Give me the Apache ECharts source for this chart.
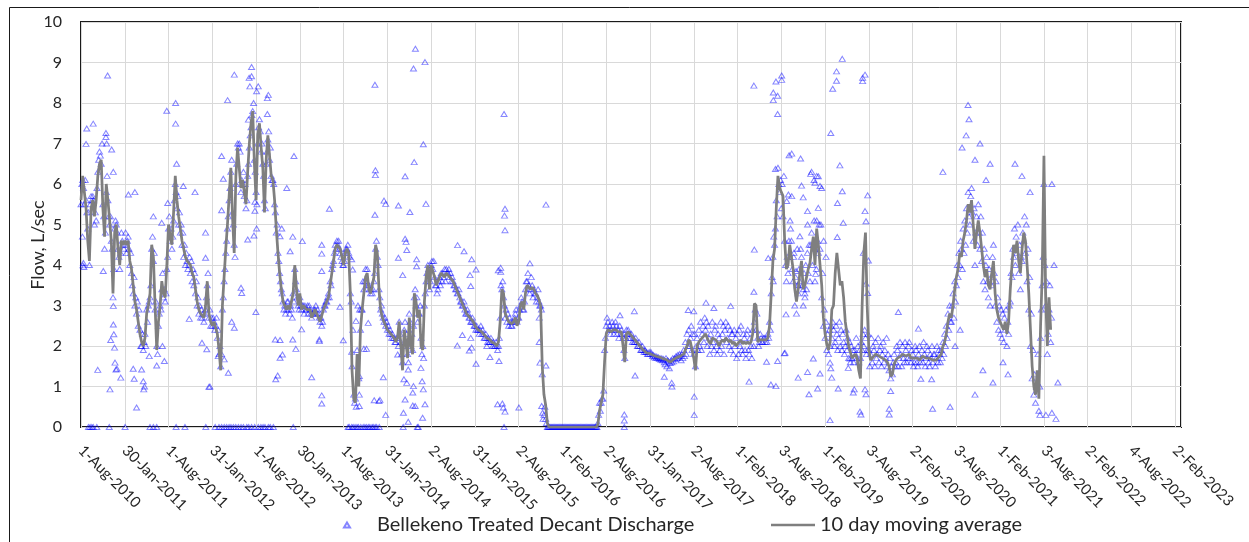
<!DOCTYPE html>
<html>
<head>
<meta charset="utf-8">
<script src="https://cdn.jsdelivr.net/npm/echarts@6/dist/echarts.min.js"></script>
<style>
  html, body { margin: 0; padding: 0; background: #fff; }
  #chart { width: 1249px; height: 542px; }
</style>
</head>
<body>
<div id="chart"></div>
<script>
// Half-year tick labels along the date axis (days counted from 1-Aug-2010)
const tickLabels = ['1-Aug-2010','30-Jan-2011','1-Aug-2011','31-Jan-2012','1-Aug-2012','30-Jan-2013',
  '1-Aug-2013','31-Jan-2014','2-Aug-2014','31-Jan-2015','2-Aug-2015','1-Feb-2016','2-Aug-2016',
  '31-Jan-2017','2-Aug-2017','1-Feb-2018','3-Aug-2018','1-Feb-2019','3-Aug-2019','2-Feb-2020',
  '3-Aug-2020','1-Feb-2021','3-Aug-2021','2-Feb-2022','4-Aug-2022','2-Feb-2023'];
const TICK_DAYS = 182.72;
const AXIS_END_DAY = 4592;

// 10 day moving average, L/sec, 26 samples per half-year
const AVG_STEP = TICK_DAYS / 26;
const avgFlow = [
  5.6,6.2,5.8,5.4,4.6,4.1,5.4,5.6,5.2,5.6,6.2,6.5,6.6,5.4,4.7,6.0,5.6,5.1,4.6,3.3,4.8,5.0,4.4,4.0,4.6,4.5,
  4.6,4.5,4.6,4.1,3.9,3.5,3.1,2.9,2.6,2.3,2.1,2.0,2.2,2.8,3.0,3.3,4.5,4.2,3.0,1.9,2.6,3.0,3.6,3.3,3.2,4.0,
  5.0,4.7,4.5,5.3,6.2,5.6,5.2,4.9,4.6,4.4,4.2,4.1,4.1,4.0,3.8,3.7,3.4,3.1,2.9,2.8,2.8,2.7,3.0,3.6,2.8,2.6,
  2.5,2.6,2.6,2.3,1.9,1.4,3.0,3.7,4.4,5.0,5.7,6.4,5.2,4.3,6.2,6.9,6.9,5.9,6.1,5.8,5.5,6.3,7.0,7.5,7.8,6.5,
  5.6,7.2,7.5,6.9,6.4,5.3,6.6,7.2,6.7,6.2,6.1,5.6,4.9,4.3,3.8,3.4,3.1,3.0,2.9,3.0,2.9,2.9,3.3,4.0,3.4,3.0,
  3.3,2.9,3.0,3.0,2.9,2.9,2.9,2.7,2.8,2.9,2.8,2.8,2.6,2.6,2.9,3.0,3.1,3.2,3.5,3.8,4.1,4.4,4.5,4.5,4.4,4.2,
  4.0,4.3,4.4,4.3,3.3,1.4,0.7,0.6,1.8,1.0,2.4,2.9,3.3,3.7,3.8,3.4,3.3,3.3,3.7,4.5,4.3,3.4,2.9,2.7,2.6,2.5,
  2.4,2.35,2.3,2.25,2.2,2.1,2.2,2.6,2.0,1.4,2.4,2.1,1.7,2.7,2.0,1.8,3.3,3.1,2.7,2.9,2.0,1.9,3.1,3.7,4.0,3.4,
  4.0,4.0,3.7,3.5,3.5,3.7,3.8,3.75,3.7,3.8,3.8,3.7,3.65,3.6,3.5,3.4,3.3,3.2,3.1,3.0,2.9,2.8,2.75,2.7,2.65,2.6,
  2.5,2.45,2.4,2.4,2.35,2.3,2.25,2.2,2.2,2.15,2.1,2.1,2.05,2.0,2.1,2.6,3.4,3.3,2.8,2.7,2.6,2.6,2.55,2.6,2.7,2.5,
  2.6,3.0,3.1,2.9,3.3,3.5,3.45,3.4,3.45,3.4,3.3,3.25,3.15,3.0,1.5,0.8,0.55,0.1,0,0,0,0,0,0,0,0,
  0,0,0,0,0,0,0,0,0,0,0,0,0,0,0,0,0,0,0,0,0,0.05,0.4,0.6,0.8,1.6,
  2.3,2.4,2.4,2.35,2.4,2.4,2.4,2.35,2.35,2.35,2.0,1.6,2.3,2.35,2.3,2.25,2.2,2.15,2.1,2.05,2.0,1.95,1.9,1.9,1.83,1.82,
  1.81,1.8,1.77,1.76,1.74,1.73,1.72,1.7,1.68,1.67,1.66,1.64,1.6,1.63,1.67,1.7,1.72,1.74,1.75,1.78,1.8,1.9,2.0,2.15,2.1,1.9,
  1.7,1.4,2.0,2.1,2.15,2.2,2.25,2.3,2.3,2.1,2.05,2.2,2.2,2.15,2.1,2.0,2.1,2.15,2.1,2.2,2.2,2.1,2.15,2.05,2.1,2.0,
  2.0,2.1,2.15,2.05,2.1,2.05,2.1,2.05,2.1,2.3,3.05,3.0,2.1,2.15,2.15,2.15,2.15,2.15,2.2,2.5,3.3,4.1,4.4,5.4,6.2,5.9,
  5.8,5.7,4.6,3.9,4.0,4.5,4.5,3.9,3.4,3.1,3.4,3.8,4.1,3.4,3.5,3.7,3.9,4.05,4.4,4.7,4.0,4.9,4.5,4.5,3.5,2.7,
  2.3,2.05,1.9,2.1,2.9,3.0,3.8,4.3,3.9,3.5,3.6,3.2,2.6,2.3,2.0,1.85,1.7,1.75,1.8,1.7,1.4,1.2,3.0,4.3,4.8,3.0,
  1.9,1.65,1.7,1.75,1.8,1.78,1.75,1.73,1.7,1.68,1.65,1.6,1.5,1.25,1.3,1.55,1.65,1.7,1.72,1.75,1.8,1.78,1.75,1.78,1.8,1.7,
  1.68,1.7,1.72,1.7,1.65,1.7,1.75,1.72,1.7,1.72,1.7,1.68,1.65,1.65,1.65,1.7,1.7,1.8,2.0,2.1,2.3,2.6,2.8,2.7,3.0,3.4,
  3.7,3.9,4.3,4.2,4.6,4.8,5.1,5.5,5.3,5.6,5.0,4.4,4.8,5.1,4.8,4.4,4.0,3.7,3.9,3.5,3.4,3.8,4.1,3.3,2.9,2.7,
  2.6,2.5,2.4,2.6,2.3,2.6,3.4,4.0,4.5,4.3,4.6,4.1,3.8,4.4,4.8,4.6,4.0,3.3,2.4,1.5,1.0,0.8,1.4,0.7,2.5,3.8,
  6.7,3.3,2.0,3.2,2.4
];

// Treated decant discharge readings, L/sec, 52 per half-year
const DAILY_STEP = TICK_DAYS / 52;
const dailyFlow = [
  5.5,6.0,6.1,5.9,5.5,6.1,5.6,5.3,4.9,5.3,4.0,5.5,5.7,5.6,5.7,5.6,5.0,5.3,5.1,5.9,6.3,6.6,6.8,6.7,6.5,7.0,5.5,5.2,4.4,4.8,5.8,6.2,5.6,5.2,5.0,5.2,4.6,4.4,3.2,3.9,4.9,5.1,5.0,4.8,4.4,4.2,3.9,4.3,4.8,4.6,4.5,4.4,
  4.5,4.8,4.3,4.6,4.7,4.4,4.0,4.3,3.8,3.5,3.3,3.7,3.0,3.2,2.8,3.1,2.5,2.9,2.4,2.0,2.0,2.3,1.9,2.1,2.3,2.0,2.9,2.6,3.0,3.1,3.2,3.5,4.4,4.7,4.1,4.3,2.9,3.1,2.0,1.8,2.5,2.8,3.0,2.9,3.4,3.8,3.2,3.4,3.1,3.3,3.9,4.2,
  4.9,5.2,4.6,4.9,4.4,4.7,5.1,5.6,6.0,5.8,5.4,5.7,5.0,5.3,4.8,5.0,4.5,4.8,4.2,4.5,4.0,4.3,4.1,3.9,4.0,4.2,3.8,4.1,3.6,3.9,3.5,3.8,3.3,3.6,3.0,3.2,2.8,3.0,2.7,2.9,2.7,2.8,2.6,2.8,2.9,3.2,3.5,3.8,2.7,2.9,2.5,2.7,
  2.5,2.7,2.6,2.4,2.5,2.7,2.2,2.4,1.8,2.0,1.5,1.8,2.9,3.2,3.6,3.9,4.3,4.6,4.9,5.2,5.6,5.9,6.3,6.6,5.3,5.0,4.5,4.2,6.0,6.5,7.0,6.9,7.0,6.8,5.8,6.1,6.0,6.3,5.7,6.0,5.4,5.6,6.2,6.5,6.9,7.2,7.4,7.7,7.8,8.0,6.6,6.3,
  5.8,5.5,7.0,7.4,7.6,7.3,6.8,7.0,6.5,6.2,5.6,5.4,6.5,6.8,7.1,7.3,6.6,6.9,6.2,6.1,6.1,6.0,5.5,5.3,4.8,5.0,4.3,4.1,3.8,3.6,3.4,3.3,3.1,2.9,3.0,2.8,2.9,3.1,3.1,2.9,2.8,3.0,2.9,2.7,3.3,3.1,3.9,3.6,3.4,3.2,3.0,2.9,
  3.2,3.0,2.9,3.0,3.0,2.8,3.0,2.9,2.9,3.0,2.8,3.0,2.9,2.8,2.7,2.8,2.8,2.9,2.9,3.0,2.8,2.9,2.8,2.7,2.6,2.7,2.5,2.6,2.9,3.0,3.0,3.1,3.1,3.2,3.3,3.2,3.6,3.5,3.9,4.0,4.1,4.3,4.5,4.4,4.6,4.5,4.6,4.4,4.3,4.2,4.1,4.0,
  4.0,4.1,4.3,4.4,4.4,4.5,4.3,4.2,3.3,3.1,1.5,2.4,0.8,0.6,0.7,0.5,1.9,3.0,1.2,2.9,2.4,2.9,2.9,3.6,3.4,3.6,3.9,3.6,3.9,3.5,3.5,3.4,3.3,3.4,3.3,3.4,3.6,3.8,4.4,4.6,4.2,4.0,3.4,3.2,2.9,3.0,2.8,2.7,2.6,2.7,2.5,2.6,
  2.4,2.5,2.3,2.4,2.3,2.2,2.3,2.2,2.2,2.1,2.1,2.2,2.2,2.0,2.6,2.3,2.1,1.8,1.6,2.0,2.4,2.6,2.1,2.3,1.8,1.6,2.8,2.6,2.0,2.3,1.9,2.5,3.2,3.4,3.0,3.2,2.6,2.8,2.8,3.0,2.2,1.8,2.0,1.7,3.0,3.3,3.6,3.8,4.0,3.9,3.4,3.6,
  4.0,4.1,3.9,4.1,3.7,3.5,3.5,3.3,3.4,3.6,3.7,3.5,3.8,3.6,3.8,3.7,3.9,3.6,3.9,3.8,3.8,3.9,3.7,3.8,3.6,3.7,3.6,3.5,3.5,3.4,3.4,3.3,3.3,3.4,3.2,3.1,3.1,3.0,3.0,3.1,2.9,2.8,2.8,2.9,2.8,2.7,2.7,2.6,2.6,2.7,2.6,2.5,
  2.5,2.4,2.5,2.4,2.4,2.3,2.4,2.5,2.3,2.4,2.3,2.2,2.2,2.3,2.2,2.1,2.2,2.1,2.1,2.2,2.1,2.0,2.1,2.0,2.0,2.1,2.0,1.9,2.0,2.2,2.7,3.5,3.4,3.6,3.2,3.0,2.7,2.9,2.6,2.8,2.5,2.7,2.6,2.5,2.5,2.6,2.6,2.7,2.8,2.9,2.6,2.7,
  2.7,2.9,3.0,3.2,3.1,2.9,2.9,3.1,3.4,3.6,3.6,3.8,3.5,3.3,3.4,3.7,3.5,3.2,3.4,3.3,3.3,3.1,3.2,3.4,3.1,3.0,3.0,2.9,1.3,0.2,0.3,0.5,0.2,0.1,0,0,0,0,0,0,0,0,0,0,0,0,0,0,0,0,0,0,
  0,0,0,0,0,0,0,0,0,0,0,0,0,0,0,0,0,0,0,0,0,0,0,0,0,0,0,0,0,0,0,0,0,0,0,0,0,0,0,0,0,0,0.1,0.3,0.6,0.4,0.6,0.7,0.7,0.9,1.9,2.2,
  2.5,2.7,2.6,2.4,2.5,2.3,2.4,2.6,2.5,2.3,2.4,2.6,2.5,2.3,2.4,2.2,2.5,2.3,2.4,2.3,2.2,1.9,1.7,2.2,2.4,2.3,2.4,2.2,2.3,2.2,2.3,2.1,2.2,2.1,2.1,2.2,2.1,2.0,2.0,2.1,2.0,1.9,1.9,2.0,1.9,1.85,1.9,1.85,1.85,1.8,1.8,1.85,
  1.8,1.85,1.8,1.75,1.78,1.72,1.75,1.7,1.74,1.7,1.72,1.68,1.7,1.66,1.7,1.65,1.68,1.6,1.55,1.7,1.5,1.65,1.62,1.45,1.58,1.65,1.6,1.7,1.62,1.7,1.68,1.75,1.7,1.78,1.72,1.8,1.75,1.65,1.8,1.7,1.9,1.75,2.1,1.8,2.3,2.0,2.4,2.0,2.2,2.5,1.9,2.3,
  1.8,2.3,1.5,2.0,2.2,1.9,2.4,2.0,2.6,1.9,2.3,2.5,2.1,2.7,2.4,2.6,2.0,2.5,2.2,1.8,2.3,2.0,2.6,2.1,1.9,2.4,2.5,2.0,1.8,2.3,2.2,1.9,2.6,2.0,2.3,2.5,1.8,2.4,2.6,2.1,2.2,2.5,2.0,2.4,1.9,2.3,2.3,1.8,2.4,2.0,2.2,1.7,
  2.3,1.8,2.4,2.0,2.5,1.9,1.8,2.3,2.2,1.9,1.7,2.3,2.4,1.9,1.8,2.2,2.0,1.7,2.4,2.0,2.6,2.9,2.4,2.8,2.2,2.0,2.1,2.3,2.2,2.1,2.1,2.2,2.2,2.1,2.2,2.1,2.3,2.2,2.6,2.4,3.3,3.7,4.2,4.7,4.5,4.9,5.6,5.2,6.4,6.0,5.8,6.1,
  5.4,6.0,5.2,6.2,4.6,4.0,3.6,4.2,3.8,4.6,4.2,4.9,4.6,3.9,3.6,4.3,3.0,3.7,2.8,3.5,3.3,3.9,3.6,4.4,4.2,3.5,3.0,3.8,3.3,4.0,3.4,4.3,3.8,4.5,3.6,4.5,4.8,4.0,4.5,5.1,3.6,4.4,5.1,4.6,4.3,5.0,4.4,5.0,3.2,3.8,2.5,2.9,
  2.2,2.6,1.9,2.3,1.8,2.4,2.0,2.5,2.2,2.6,2.4,2.0,2.1,2.5,2.3,1.9,2.2,2.6,2.0,2.4,1.9,2.3,2.1,1.8,2.0,2.4,1.9,2.2,1.7,2.1,1.6,2.0,1.7,1.9,1.6,1.9,1.8,2.2,1.7,2.0,1.6,1.9,1.7,2.1,1.9,2.3,2.0,2.4,2.2,1.8,1.9,2.3,
  1.9,1.5,1.8,2.2,1.6,2.0,1.9,1.5,2.1,1.7,1.8,2.2,1.6,1.9,2.0,1.5,1.8,2.1,1.6,1.9,1.7,2.2,1.5,1.8,1.4,1.7,1.2,1.5,1.3,1.6,1.8,1.5,1.6,2.0,1.9,1.5,1.7,2.1,1.8,1.5,2.0,1.7,1.6,2.1,1.9,1.6,1.7,2.0,2.1,1.7,1.6,1.9,
  1.8,1.5,1.6,2.0,1.9,1.6,1.5,1.8,2.0,1.6,1.7,1.9,1.6,2.1,1.8,1.5,1.7,2.0,1.9,1.6,1.5,1.8,1.7,2.0,1.6,1.8,1.8,1.5,1.7,2.0,1.6,1.9,1.8,1.6,1.9,1.7,2.1,1.8,2.3,2.0,2.5,2.2,2.8,2.4,3.0,2.6,2.6,3.0,3.3,2.7,3.6,3.1,
  3.5,4.0,3.7,4.3,4.0,4.6,4.4,3.9,4.9,4.3,5.1,4.5,5.4,4.8,5.8,5.2,5.0,5.7,5.9,5.3,4.6,5.4,4.0,4.8,5.2,4.5,5.5,4.8,4.4,5.2,4.1,4.8,3.6,4.4,3.4,4.0,4.2,3.6,3.2,3.9,3.0,3.7,3.5,4.2,4.5,3.8,3.0,3.6,2.6,3.2,2.4,3.0,
  2.3,2.9,2.2,2.8,2.1,2.7,2.4,2.9,2.0,2.6,2.3,3.0,3.1,3.8,3.7,4.4,4.2,4.9,4.0,4.7,4.3,5.0,3.8,4.5,3.4,4.2,4.1,4.8,4.6,5.2,4.3,5.0,3.6,4.4,2.9,3.7,2.0,2.8,1.2,1.9,0.8,1.3,0.6,1.0,1.1,1.8,0.4,1.0,2.2,2.9,3.5,4.2,
  6.0,4.0,3.0,3.6,1.8,2.3,2.9,3.5,2.1,2.7
];

// Readings well away from the main band: [day, L/sec]
const spotReadings = [
  [111,8.68],[51,7.49],[24,7.37],[21,6.99],[104,7.26],[104,7.16],[107,7.0],[128,6.85],[135,6.3],[358,7.81],
  [395,8.0],[395,7.49],[399,6.5],[427,5.95],[476,5.8],[225,5.8],[198,5.74],[302,5.2],[337,5.04],[362,5.53],
  [520,4.8],[520,4.18],[6,4.7],[8,3.99],[10,4.05],[12,3.95],[93,3.85],[135,2.99],[135,2.53],[137,2.29],[124,2.15],
  [140,1.96],[142,1.59],[146,1.42],[70,1.41],[150,1.44],[166,1.22],[121,0.93],[218,1.44],[222,1.19],[253,1.42],
  [260,1.13],[265,1.0],[262,0.93],[232,0.48],[285,1.75],[316,1.52],[348,1.63],[340,2.0],[534,0.99],[452,2.67],
  [525,1.92],[505,2.08],
  [640,8.7],[712,8.89],[702,8.62],[705,8.41],[712,8.66],[612,8.07],[733,8.29],[740,8.41],[782,8.2],[778,8.12],
  [778,7.73],[699,7.59],[889,6.69],[587,6.69],[594,6.13],[859,5.9],[1037,5.39],[726,5.56],[726,5.34],[587,5.35],
  [733,4.9],[722,4.73],[696,4.63],[884,4.7],[924,4.59],[838,4.9],[831,4.71],[873,4.34],[1005,4.5],[1005,4.28],
  [1005,3.85],[1130,4.14],[1134,3.89],[1081,2.97],[1095,2.14],[668,3.44],[671,3.31],[730,2.84],[629,2.6],[640,2.45],
  [921,2.41],[811,2.16],[831,2.15],[884,2.16],[897,1.93],[831,1.71],[841,1.79],[821,1.27],[813,1.18],[963,1.23],
  [995,2.16],[995,2.12],[1005,0.78],[1005,0.58],[615,1.34],[538,1.0],[598,1.67],[573,1.75],
  [1396,9.34],[1388,8.85],[1436,9.01],[1227,8.45],[1429,6.98],[1391,6.54],[1353,6.19],[1229,6.34],[1229,6.22],
  [1265,5.59],[1272,5.51],[1325,5.47],[1373,5.31],[1440,5.51],[1227,5.24],[1353,4.65],[1357,4.57],[1360,4.37],
  [1325,4.18],[1401,4.14],[1401,3.97],[1343,3.75],[1572,4.49],[1599,4.34],[1631,4.14],[1649,3.89],[1624,3.75],
  [1627,3.48],[1742,3.87],[1571,2.01],[1592,2.27],[1627,2.2],[1621,1.89],[1631,1.96],[1649,1.56],[1694,2.0],
  [1707,1.73],[1739,0.56],[1199,2.57],[1181,1.93],[1192,1.93],[1130,1.86],[1148,2.62],[1162,1.26],[1162,0.8],
  [1162,0.52],[1262,1.23],[1224,0.66],[1244,0.64],[1248,0.67],[1272,0.3],[1366,0.13],[1348,1.18],[1360,1.09],
  [1388,1.01],[1385,0.85],[1424,1.13],[1429,0.93],[1419,1.46],[1436,0.56],[1426,0.23],[1385,0.53],[1353,0.68],
  [1366,1.42],[1346,0.35],[1395,0.52],[1322,1.79],
  [1766,7.73],[1770,5.39],[1768,5.22],[1770,4.86],[1941,5.49],[1752,3.93],[1752,3.83],[1874,4.04],[2310,2.86],
  [2250,2.76],[1913,2.7],[1913,2.1],[1916,1.59],[1941,1.52],[1745,1.63],[2313,1.27],[1759,0.58],[1763,0.48],
  [1770,0.38],[1828,0.48],[1923,0.52],[1927,0.35],[2268,0.31],[2268,0.16],
  [2809,8.43],[2925,8.68],[2925,8.57],[2901,8.53],[2890,8.26],[2890,8.07],[2908,8.18],[2908,7.73],[2956,6.71],
  [2899,6.37],[2811,4.38],[2869,4.17],[2809,3.34],[2890,3.6],[2943,2.78],[2862,1.61],[2908,1.63],[2936,1.82],
  [2789,1.12],[2880,1.05],[2901,1.01],[2560,0.75],[2560,0.3],[2466,1.09],[2467,1.0],[2435,1.24],[2609,3.07],
  [2535,2.89],[2558,2.86],[2642,2.94],[2712,2.99],
  [3178,9.09],[3154,8.78],[3154,8.55],[3138,8.35],[3273,8.7],[3263,8.62],[3263,8.54],[3130,7.26],[2967,6.75],
  [3004,6.63],[3168,6.46],[3046,6.25],[3078,6.19],[3064,6.03],[3178,5.82],[3008,5.96],[3015,5.67],[2953,5.74],
  [2967,5.7],[2946,5.58],[3284,5.72],[3273,5.33],[3277,5.08],[3158,5.53],[3182,5.04],[3033,5.33],[3078,5.41],
  [2960,5.1],[3157,4.69],[3001,4.71],[3033,5.0],[3266,4.3],[3287,4.11],[3277,3.54],[3284,3.31],[3067,3.78],
  [3412,2.84],[3496,2.43],[2939,1.83],[2994,1.22],[3039,0.81],[3033,1.36],[3075,0.95],[3085,1.32],[3127,1.59],
  [3130,1.45],[3134,1.22],[3161,0.95],[3127,0.17],[3228,0.93],[3224,0.85],[3273,0.93],[3277,0.81],[3252,0.38],
  [3256,0.31],[3380,0.89],[3374,0.45],[3374,0.31],[3555,0.45],[3506,1.19],[3551,1.18],[3057,1.69],[3203,1.46],
  [3210,1.69],[3060,6.1],[3071,6.2],[3085,5.95],[3092,5.9],[3050,6.3],[2985,3.85],[2995,3.5],[3015,3.4],
  [3022,3.2],[2990,4.4],[2975,4.2],[3070,3.9],[3100,4.6],[3110,4.2],
  [3598,6.3],[3703,7.95],[3707,7.6],[3695,7.2],[3678,6.9],[3732,6.6],[3753,7.0],[3778,6.1],[3795,6.5],[3899,6.5],
  [3928,6.2],[3962,5.8],[4053,6.0],[4062,4.0],[3628,0.5],[3732,0.8],[3765,1.4],[3807,1.1],[3849,1.6],[3870,1.3],
  [4003,0.3],[4028,0.3],[4053,0.35],[4078,1.1],[4070,0.2],[3649,2.0],[3670,2.4]
];

// Days on which the discharge read zero outside the 2016 shutdown
const zeroDays = [31,38,45,51,66,118,184,288,302,316,397,434,521,
  560,576,587,598,608,618,626,636,646,657,668,678,692,700,712,725,740,751,760,768,782,790,803,886,
  1115,1120,1130,1136,1144,1152,1158,1168,1178,1185,1192,1200,1206,1215,1220,1228,1234,1245,1345,1404,1408,
  1766,2268];

const FONT = 'Lato';
const TEXT = '#262626';

const dischargePoints = dailyFlow.map((v, i) => [i * DAILY_STEP, v])
  .concat(spotReadings)
  .concat(zeroDays.map(d => [d, 0]));
const averagePoints = avgFlow.map((v, i) => [i * AVG_STEP, v]);

const chart = echarts.init(document.getElementById('chart'), null, { renderer: 'canvas' });
chart.setOption({
  animation: false,
  backgroundColor: '#ffffff',
  graphic: [{
    type: 'rect',
    shape: { x: 9.5, y: 7.5, width: 1400, height: 700 },
    style: { fill: 'none', stroke: '#1a1a1a', lineWidth: 1 },
    silent: true, z: -1
  }, {
    // value axis title
    type: 'text',
    x: 38, y: 245,
    rotation: Math.PI / 2,
    style: {
      text: 'Flow, L/sec', fontFamily: FONT, fontSize: 18, fill: TEXT,
      align: 'center', verticalAlign: 'middle'
    },
    silent: true
  }],
  grid: {
    left: 81, right: 68, top: 22, bottom: 115,
    show: true, borderColor: '#1a1a1a', borderWidth: 2, backgroundColor: 'transparent'
  },
  legend: [{
    data: ['Bellekeno Treated Decant Discharge'],
    left: 338, top: 510,
    itemWidth: 6, itemHeight: 5,
    textStyle: { fontFamily: FONT, fontSize: 20, color: TEXT, padding: [0, 0, 0, 22] }
  }, {
    data: [{ name: '10 day moving average', icon: 'rect' }],
    left: 766, top: 510,
    itemWidth: 44, itemHeight: 2.5,
    textStyle: { fontFamily: FONT, fontSize: 20, color: TEXT }
  }],
  xAxis: {
    type: 'value',
    min: 0, max: AXIS_END_DAY, interval: TICK_DAYS,
    axisLine: { show: false },
    axisTick: { show: false },
    splitLine: { show: true, lineStyle: { color: '#d9d9d9', width: 1 } },
    axisLabel: {
      rotate: -45, margin: 21,
      fontFamily: FONT, fontSize: 15, color: TEXT,
      formatter: function (v) {
        const k = Math.round(v / TICK_DAYS);
        if (Math.abs(v - k * TICK_DAYS) > 1 || k >= tickLabels.length) return '';
        return tickLabels[k];
      }
    }
  },
  yAxis: {
    type: 'value',
    min: 0, max: 10, interval: 1,
    axisLine: { show: false },
    axisTick: { show: false },
    splitLine: { show: true, lineStyle: { color: '#d9d9d9', width: 1 } },
    axisLabel: { fontFamily: FONT, fontSize: 16, color: TEXT, margin: 19 }
  },
  series: [{
    name: 'Bellekeno Treated Decant Discharge',
    type: 'scatter',
    data: dischargePoints,
    symbol: 'triangle',
    symbolSize: [6, 5],
    large: false,
    progressive: 0,
    itemStyle: { color: 'rgba(255,255,255,0)', borderColor: 'rgba(0,0,255,0.6)', borderWidth: 1 },
    z: 2
  }, {
    name: '10 day moving average',
    type: 'line',
    data: averagePoints,
    symbol: 'none',
    showSymbol: false,
    lineStyle: { color: '#7f7f7f', width: 2.75 },
    itemStyle: { color: '#7f7f7f' },
    z: 3
  }]
});
</script>
</body>
</html>
